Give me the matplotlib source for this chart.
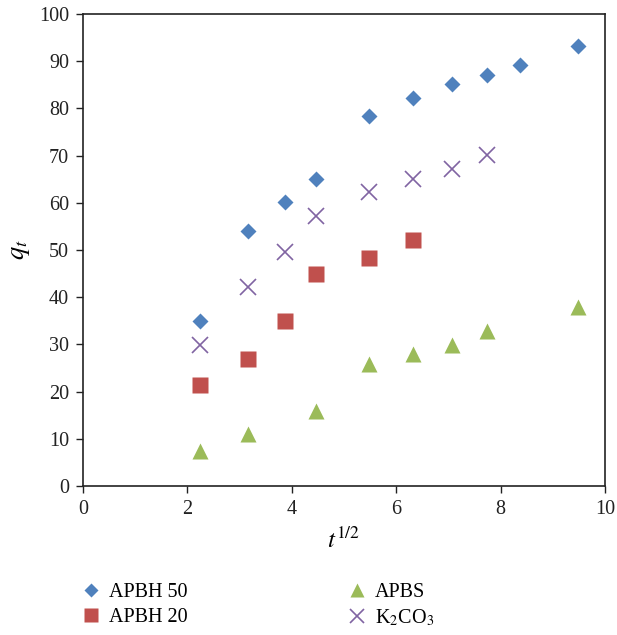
import numpy as np
import matplotlib
matplotlib.use("Agg")
from matplotlib import pyplot as plt

plt.rcParams["font.family"] = ["Liberation Serif", "DejaVu Serif"]
plt.rcParams["mathtext.fontset"] = "stix"

# sqrt(t) values and adsorption data
x_all = np.array([2.236, 3.162, 3.873, 4.472, 5.477, 6.325, 7.071, 7.746, 8.367, 9.487])
apbh50 = [35, 54, 60.2, 65, 78.3, 82.1, 85.2, 87.1, 89.2, 93.2]
x_apbh20 = x_all[:6]
apbh20 = [21.5, 26.9, 35, 44.9, 48.2, 52.1]
x_k2co3 = x_all[:8]
k2co3 = [29.9, 42.2, 49.6, 57.3, 62.2, 65, 67.1, 70.1]
x_apbs = np.delete(x_all, [2, 8])
apbs = [7.4, 11, 15.8, 25.9, 28, 29.9, 32.9, 37.9]

fig = plt.figure(figsize=(6.17, 6.35), dpi=100)
ax = fig.add_axes([0.1345, 0.2346, 0.846, 0.7434])

h1, = ax.plot(x_all, apbh50, "D", ms=8.6, color="#4F81BD", mec="none", label="APBH 50")
h2, = ax.plot(x_apbh20, apbh20, "s", ms=12, color="#C0504D", mec="none", label="APBH 20")
h3, = ax.plot(x_apbs, apbs, "^", ms=12, color="#9BBB59", mec="none", label="APBS")
h4, = ax.plot(x_k2co3, k2co3, "x", ms=12, mew=1.2, color="#8064A2", label="K$_2$CO$_3$")

ax.set_xlim(0, 10)
ax.set_ylim(0, 100)
ax.set_xticks(range(0, 11, 2))
ax.set_yticks(range(0, 101, 10))
ax.tick_params(direction="out", length=5, width=1, labelsize=14.5, colors="#222222", pad=5)
for s in ax.spines.values():
    s.set_color("#222222")
    s.set_linewidth(1.2)

ax.set_xlabel("$t^{1/2}$", fontsize=18, labelpad=6)
ax.set_ylabel("$q_t$", fontsize=19, labelpad=5)

ax.legend(handles=[h1, h2, h3, h4], ncol=2, loc="upper left",
          bbox_to_anchor=(-0.043, -0.166), frameon=False, fontsize=14.5,
          columnspacing=7.8, handletextpad=0.3, handlelength=1.2,
          labelspacing=0.3, markerscale=0.85)

plt.savefig("out.png", dpi=100)
plt.close()
